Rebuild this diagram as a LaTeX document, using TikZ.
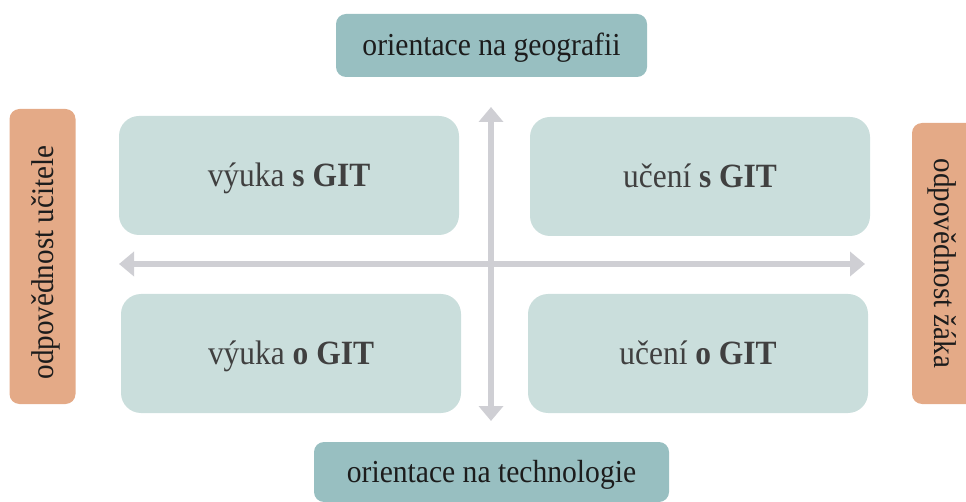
\documentclass[tikz,border=0pt]{standalone}
\usepackage{fontspec}
\setmainfont{Liberation Serif}[FakeStretch=0.925]
\usetikzlibrary{arrows.meta}
\definecolor{axisteal}{HTML}{98BFC1}
\definecolor{quadfill}{HTML}{CADEDC}
\definecolor{sidefill}{HTML}{E4AA87}
\definecolor{axisgray}{HTML}{CFCFD4}
\definecolor{quadtext}{HTML}{404040}
\definecolor{labeltext}{HTML}{1C1C1C}
\tikzset{
  axisbox/.style={fill=axisteal, rounded corners=10pt, inner sep=0pt,
    text=labeltext, font=\fontsize{32}{34}\selectfont,
    text height=21pt, text depth=0pt},
  sidebox/.style={fill=sidefill, rounded corners=10pt, inner sep=0pt,
    minimum width=66pt},
  sidetext/.style={inner sep=0pt, text=labeltext,
    font=\fontsize{31.5}{34}\selectfont, text height=21pt, text depth=0pt},
  quadbox/.style={fill=quadfill, rounded corners=20pt, inner sep=0pt,
    minimum width=340pt, minimum height=119pt,
    text=quadtext, font=\fontsize{34}{36}\selectfont,
    text height=22.5pt, text depth=0pt},
  axisline/.style={draw=axisgray, line width=6pt,
    {Triangle[width=24pt,length=15pt]}-{Triangle[width=24pt,length=15pt]}}
}
\begin{document}
\begin{tikzpicture}[x=1pt,y=-1pt]
  \useasboundingbox (0,0) rectangle (966,502);
  \clip (0,0) rectangle (966,502);

  % poles of the vertical axis
  \node[axisbox, minimum width=311pt, minimum height=63pt] (geo) at (491.5,45.5) {orientace na geografii};
  \node[axisbox, minimum width=355pt, minimum height=60pt] (tech) at (491.5,472) {orientace na technologie};

  % poles of the horizontal axis
  \node[sidebox, minimum height=295pt] (ucitelbox) at (42.5,256.5) {};
  \node[sidetext, rotate=90] (ucitel) at (42.5,262.5) {odpovědnost učitele};
  \node[sidebox, minimum height=281pt] (zakbox) at (945,263.5) {};
  \node[sidetext, rotate=-90] (zak) at (945,263.5) {odpovědnost žáka};

  % the four quadrants
  \node[quadbox] (q1) at (289,175.5) {výuka \textbf{s GIT}};
  \node[quadbox] (q2) at (700,176.5) {učení \textbf{s GIT}};
  \node[quadbox] (q3) at (291,353.5) {výuka \textbf{o GIT}};
  \node[quadbox] (q4) at (698,353.5) {učení \textbf{o GIT}};

  % axes
  \coordinate (vtop) at (491,107);
  \coordinate (vbot) at (491,421);
  \coordinate (hleft) at (119,264);
  \coordinate (hright) at (865,264);
  \draw[axisline] (hleft) -- (hright);
  \draw[axisline] (vtop) -- (vbot);
\end{tikzpicture}
\end{document}
